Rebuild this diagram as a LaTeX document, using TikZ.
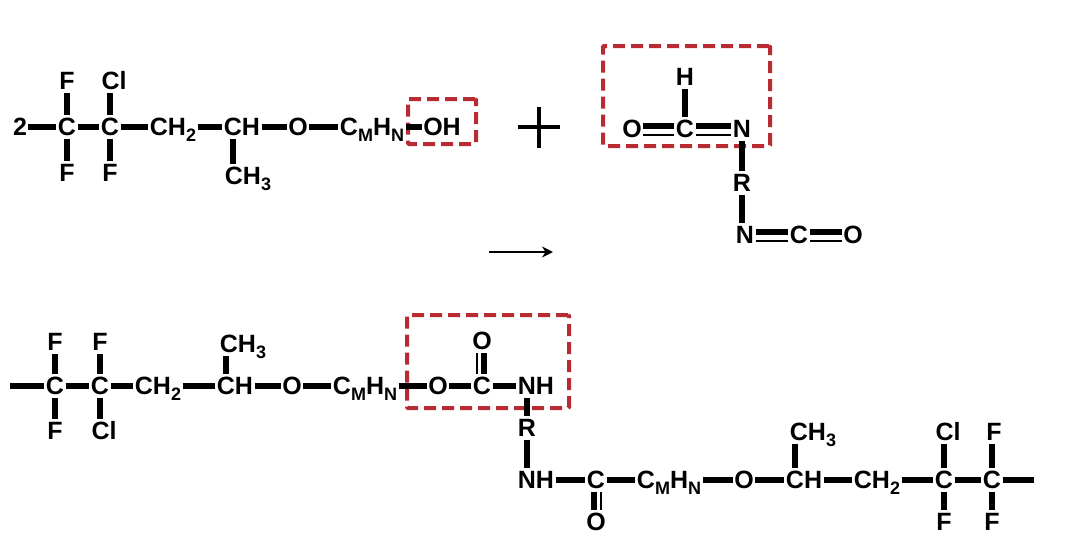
\documentclass[tikz,border=0pt]{standalone}
\usepackage{fontspec}
\setmainfont{Liberation Sans}
\usetikzlibrary{arrows.meta,positioning}

\newcommand{\subs}[1]{\raisebox{-6pt}{\fontsize{18}{18}\selectfont #1}}

\tikzset{
  atom/.style={font=\fontsize{25}{25}\bfseries\selectfont, inner xsep=1.5pt, inner ysep=4pt,
    text height=16.5pt, text depth=0pt, outer sep=0pt},
  bond/.style={line width=5.6pt},
  thinbond/.style={line width=1.2pt},
  hlbox/.style={draw=hlred, line width=4pt, dash pattern=on 12pt off 6pt, rounded corners=1pt, inner sep=0pt},
}
\definecolor{hlred}{HTML}{B92B32}

\begin{document}
\begin{tikzpicture}[x=1pt,y=-1pt]

      \useasboundingbox (0,0) rectangle (1080,554);

      % highlight boxes
      \node[hlbox, minimum width=68pt, minimum height=45pt] at (442,121.5) (box1) {};
      \node[hlbox, minimum width=167pt, minimum height=100pt] at (686.5,96) (box2) {};
      \node[hlbox, minimum width=162pt, minimum height=93pt] at (488,361.5) (box3) {};

      % first reactant
      \node[atom] at (20,127) (two) {2};
      \node[atom] at (67,127) (A0) {C};
      \node[atom] at (110,127) (A1) {C};
      \node[atom] at (173,127) (A2) {CH\subs{2}};
      \node[atom] at (242,127) (A3) {CH};
      \node[atom] at (298,127) (A4) {O};
      \node[atom] at (372,127) (A5) {C\subs{M}H\subs{N}};
      \node[atom] at (442,127) (A6) {OH};
      \node[atom] at (67,81) (Aup0) {F};
      \node[atom] at (114,81) (Aup1) {Cl};
      \node[atom] at (67,173) (Adn0) {F};
      \node[atom] at (110,173) (Adn1) {F};
      \node[atom] at (248,176) (Adn3) {CH\subs{3}};

      \draw[bond] (two)--(A0);
      \draw[bond] (A0)--(A1);
      \draw[bond] (A1)--(A2);
      \draw[bond] (A2)--(A3);
      \draw[bond] (A3)--(A4);
      \draw[bond] (A4)--(A5);
      \draw[bond] (A5)--(A6);
      \draw[bond] (A0)--(Aup0);
      \draw[bond] (A0)--(Adn0);
      \draw[bond] (A1.north)--(A1.north |- Aup1.south);
      \draw[bond] (A1)--(Adn1);
      \draw[bond] ([xshift=-9pt]A3.south)--([xshift=-9pt]A3.south |- Adn3.north);

      % plus sign and arrow
      \coordinate (plusW) at (518,127);
      \coordinate (plusE) at (560,127);
      \coordinate (plusN) at (539,107);
      \coordinate (plusS) at (539,148);
      \draw[line width=4.2pt] (plusW)--(plusE);
      \draw[line width=4.2pt] (plusN)--(plusS);
      \coordinate (arrW) at (489,252);
      \coordinate (arrE) at (553,252);
      \draw[line width=1.8pt,-{Stealth[length=11pt,width=11pt]}] (arrW)--(arrE);

      % diisocyanate
      \node[atom] at (632,129) (B0) {O};
      \node[atom] at (685,129) (B1) {C};
      \node[atom] at (742,129) (B2) {N};
      \node[atom] at (685,77) (B3) {H};
      \node[atom] at (742,183) (B4) {R};
      \node[atom] at (745,235) (B5) {N};
      \node[atom] at (799,235) (B6) {C};
      \node[atom] at (853,235) (B7) {O};

      \draw[bond] ([yshift=3pt]B0.east)--([yshift=3pt]B1.west);
      \draw[bond] ([yshift=3pt]B1.east)--([yshift=3pt]B2.west);
      \draw[thinbond] ([yshift=-6pt]B0.east)--([yshift=-6pt]B1.west);
      \draw[thinbond] ([yshift=-6pt]B1.east)--([yshift=-6pt]B2.west);
      \draw[bond] (B1)--(B3);
      \draw[bond] (B2)--(B4);
      \draw[bond] (B4.south)--(B4.south |- B5.north);
      \draw[bond] ([yshift=3pt]B5.east)--([yshift=3pt]B6.west);
      \draw[bond] ([yshift=3pt]B6.east)--([yshift=3pt]B7.west);
      \draw[thinbond] ([yshift=-6pt]B5.east)--([yshift=-6pt]B6.west);
      \draw[thinbond] ([yshift=-6pt]B6.east)--([yshift=-6pt]B7.west);

      % product, left half
      \coordinate (startC) at (10,386);
      \node[atom] at (55,386) (C0) {C};
      \node[atom] at (100,386) (C1) {C};
      \node[atom] at (158,386) (C2) {CH\subs{2}};
      \node[atom] at (235,386) (C3) {CH};
      \node[atom] at (292,386) (C4) {O};
      \node[atom] at (365,386) (C5) {C\subs{M}H\subs{N}};
      \node[atom] at (438,386) (C6) {O};
      \node[atom] at (482,386) (C7) {C};
      \node[atom] at (536,386) (C8) {NH};
      \node[atom] at (55,342) (Cup0) {F};
      \node[atom] at (100,342) (Cup1) {F};
      \node[atom] at (243,344) (Cup3) {CH\subs{3}};
      \node[atom] at (482,341) (Cup7) {O};
      \node[atom] at (55,431) (Cdn0) {F};
      \node[atom] at (104,431) (Cdn1) {Cl};
      \node[atom] at (527,428) (R0) {R};

      \draw[bond] (startC)--(C0);
      \draw[bond] (C0)--(C1);
      \draw[bond] (C1)--(C2);
      \draw[bond] (C2)--(C3);
      \draw[bond] (C3)--(C4);
      \draw[bond] (C4)--(C5);
      \draw[bond] (C5)--(C6);
      \draw[bond] (C6)--(C7);
      \draw[bond] (C7)--(C8);
      \draw[bond] (C0)--(Cup0);
      \draw[bond] (C1)--(Cup1);
      \draw[bond] (C0)--(Cdn0);
      \draw[bond] (C1.south)--(C1.south |- Cdn1.north);
      \draw[bond] ([xshift=-9pt]C3.north)--([xshift=-9pt]C3.north |- Cup3.south);
      \draw[bond] ([xshift=2pt]C7.north)--([xshift=2pt]Cup7.south);
      \draw[thinbond] ([xshift=-5pt]C7.north)--([xshift=-5pt]Cup7.south);
      \draw[bond] ([xshift=-9pt]C8.south)--([xshift=-9pt]C8.south |- R0.north);

      % product, right half
      \node[atom] at (536,480) (D0) {NH};
      \node[atom] at (596,480) (D1) {C};
      \node[atom] at (669,480) (D2) {C\subs{M}H\subs{N}};
      \node[atom] at (744,480) (D3) {O};
      \node[atom] at (804,480) (D4) {CH};
      \node[atom] at (877,480) (D5) {CH\subs{2}};
      \node[atom] at (944,480) (D6) {C};
      \node[atom] at (992,480) (D7) {C};
      \coordinate (endD) at (1034,480);
      \node[atom] at (596,522) (Ddn1) {O};
      \node[atom] at (813,432) (Dup4) {CH\subs{3}};
      \node[atom] at (948,432) (Dup6) {Cl};
      \node[atom] at (994,432) (Dup7) {F};
      \node[atom] at (944,522) (Ddn6) {F};
      \node[atom] at (992,522) (Ddn7) {F};

      \draw[bond] (R0.south)--(R0.south |- D0.north);
      \draw[bond] (D0)--(D1);
      \draw[bond] (D1)--(D2);
      \draw[bond] (D2)--(D3);
      \draw[bond] (D3)--(D4);
      \draw[bond] (D4)--(D5);
      \draw[bond] (D5)--(D6);
      \draw[bond] (D6)--(D7);
      \draw[bond] (D7)--(endD);
      \draw[bond] ([xshift=-2pt]D1.south)--([xshift=-2pt]Ddn1.north);
      \draw[thinbond] ([xshift=5pt]D1.south)--([xshift=5pt]Ddn1.north);
      \draw[bond] ([xshift=-9pt]D4.north)--([xshift=-9pt]D4.north |- Dup4.south);
      \draw[bond] (D6.north)--(D6.north |- Dup6.south);
      \draw[bond] (D7.north)--(D7.north |- Dup7.south);
      \draw[bond] (D6)--(Ddn6);
      \draw[bond] (D7)--(Ddn7);
    \end{tikzpicture}
\end{document}
